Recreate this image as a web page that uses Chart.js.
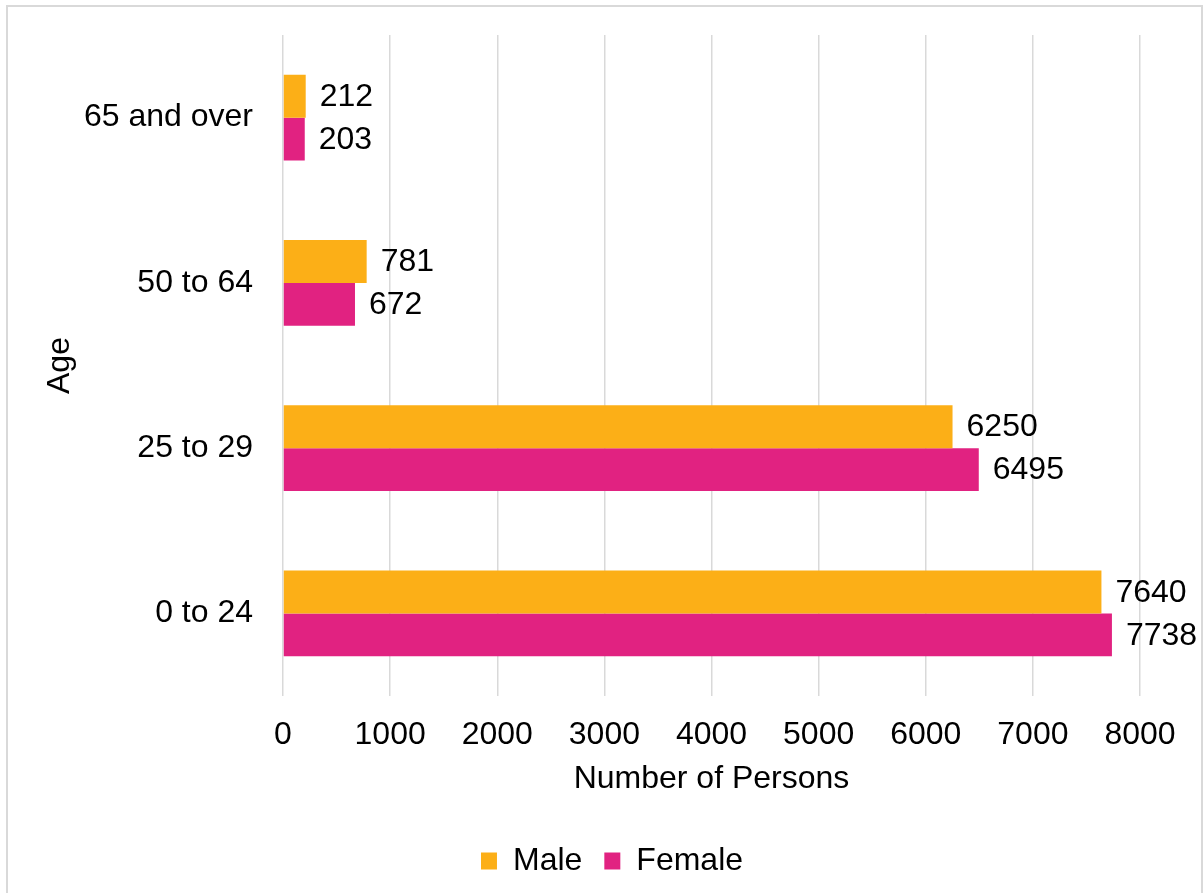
<!DOCTYPE html>
<html>
<head>
<meta charset="utf-8">
<script src="https://cdn.jsdelivr.net/npm/chart.js@4/dist/chart.umd.min.js"></script>
<style>
  html, body { margin: 0; padding: 0; background: #fff; }
  #wrap { width: 1203px; height: 893px; position: relative; }
</style>
</head>
<body>
<div id="wrap"><canvas id="ageChart"></canvas></div>
<script>
// data
const ageGroups = ['65 and over', '50 to 64', '25 to 29', '0 to 24'];
const maleCounts = [212, 781, 6250, 7640];
const femaleCounts = [203, 672, 6495, 7738];
const xTickValues = [0, 1000, 2000, 3000, 4000, 5000, 6000, 7000, 8000];

Chart.defaults.font.family = "'Liberation Sans', Arial, sans-serif";
Chart.defaults.font.size = 32;
Chart.defaults.color = '#000';

// light grey frame round the whole chart
const frame = {
  id: 'frame',
  beforeDraw(chart) {
    const ctx = chart.ctx;
    ctx.save();
    ctx.strokeStyle = '#d9d9d9';
    ctx.lineWidth = 2;
    ctx.strokeRect(7, 6, 1195, 895);
    ctx.restore();
  }
};

// nudge the legend so it sits under the middle of the plot, as in the original
const legendShift = {
  id: 'legendShift',
  afterLayout(chart) {
    if (chart.legend) chart.legend.left += 84;
  }
};

// value labels at the end of each bar
const barValues = {
  id: 'barValues',
  afterDatasetsDraw(chart) {
    const ctx = chart.ctx;
    ctx.save();
    ctx.font = "32px 'Liberation Sans', Arial, sans-serif";
    ctx.fillStyle = '#000';
    ctx.textAlign = 'left';
    ctx.textBaseline = 'middle';
    chart.data.datasets.forEach((ds, i) => {
      chart.getDatasetMeta(i).data.forEach((bar, j) => {
        ctx.fillText(ds.data[j], bar.x + 14, bar.y + 1);
      });
    });
    ctx.restore();
  }
};

new Chart(document.getElementById('ageChart'), {
  type: 'bar',
  data: {
    labels: ageGroups,
    datasets: [
      { label: 'Male', data: maleCounts, backgroundColor: '#FCAF17' },
      { label: 'Female', data: femaleCounts, backgroundColor: '#E12281' }
    ]
  },
  options: {
    indexAxis: 'y',
    responsive: true,
    maintainAspectRatio: false,
    animation: false,
    categoryPercentage: 0.52,
    barPercentage: 1,
    layout: { padding: { top: 35, left: 0, right: 63, bottom: 6 } },
    scales: {
      x: {
        min: xTickValues[0],
        max: xTickValues[xTickValues.length - 1],
        ticks: {
          stepSize: xTickValues[1] - xTickValues[0],
          padding: 20,
          callback: (v) => String(v)
        },
        grid: { color: '#d9d9d9', lineWidth: 1.5, drawTicks: false },
        border: { display: false },
        title: { display: true, text: 'Number of Persons', padding: { top: 0, bottom: 25 } },
        afterFit(scale) { scale.height = 127; }
      },
      y: {
        ticks: { padding: 30 },
        grid: { display: false, drawTicks: false },
        border: { display: false },
        title: { display: true, text: 'Age', padding: { top: 41, bottom: 0 } },
        afterFit(scale) {
          scale.width = 283;
          scale.paddingTop = 0;
          scale.paddingBottom = 0;
        }
      }
    },
    plugins: {
      legend: {
        position: 'bottom',
        labels: { boxWidth: 16, boxHeight: 17, padding: 22 }
      },
      tooltip: { enabled: false }
    }
  },
  plugins: [frame, legendShift, barValues]
});
</script>
</body>
</html>
